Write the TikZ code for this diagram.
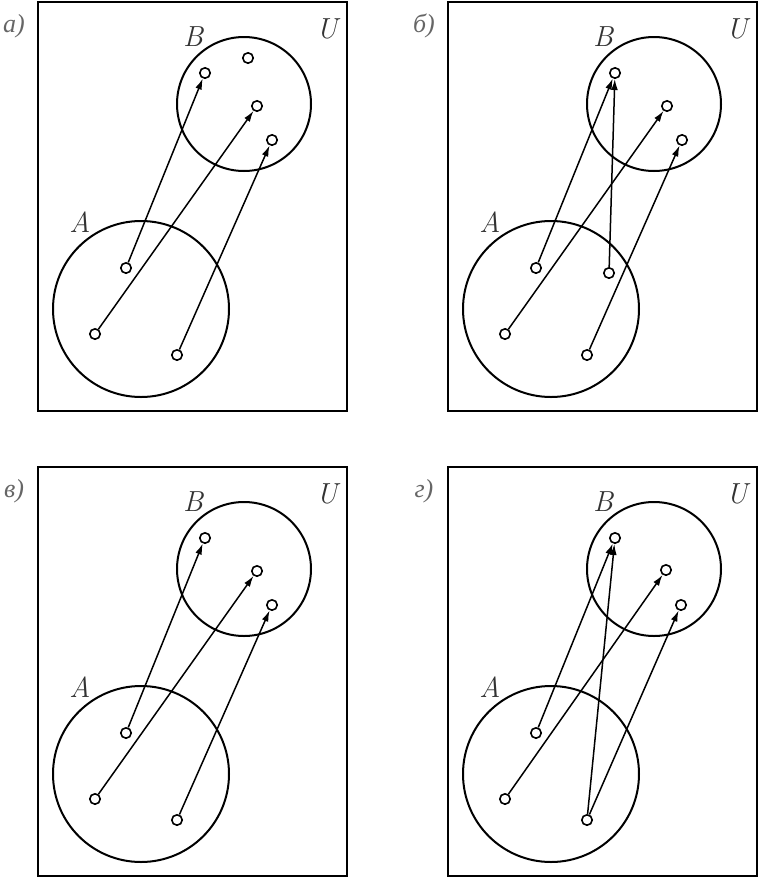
\documentclass[tikz,border=0pt]{standalone}
\usepackage{fontspec}
\newfontfamily\rusit{Liberation Serif}
\usetikzlibrary{arrows.meta}
\tikzset{
  ramka/.style={line width=1.1pt},
  mnozh/.style={line width=1pt},
  tochka/.style={circle,draw,fill=white,line width=0.8pt,inner sep=0pt,minimum size=5.2pt},
  strelka/.style={-{Latex[length=5.5pt,width=3.4pt]},line width=0.75pt},
  bukva/.style={font=\itshape\fontsize{14.5}{16}\selectfont,text=black!80},
  punkt/.style={font=\rusit\itshape\fontsize{13}{15}\selectfont,text=black!60},
}
% frame, the two sets and their letters
\newcommand\venn[2]{%
  \draw[ramka] (38,2) rectangle (347,411);
  \draw[mnozh] (244,104) circle[radius=67];
  \draw[mnozh] (141,309) circle[radius=88];
  \node[punkt] (#1-lab) at (14,26) {#2};
  \node[bukva] (#1-U) at (327,29) {U};
  \node[bukva] (#1-B) at (193,37) {B};
  \node[bukva] (#1-A) at (80,222) {A};
}

\begin{document}
\begin{tikzpicture}[x=0.5pt,y=-0.5pt]
  \useasboundingbox (0,0) rectangle (758,879);

  % а)
  \begin{scope}
    \venn{a}{а)}
    \node[tochka] (a-b1) at (205,73) {};
    \node[tochka] (a-b2) at (248,58) {};
    \node[tochka] (a-b3) at (257,106) {};
    \node[tochka] (a-b4) at (272,140) {};
    \node[tochka] (a-a1) at (126,268) {};
    \node[tochka] (a-a2) at (95,334) {};
    \node[tochka] (a-a3) at (177,355) {};
    \draw[strelka] (a-a1) -- (a-b1);
    \draw[strelka] (a-a2) -- (a-b3);
    \draw[strelka] (a-a3) -- (a-b4);
  \end{scope}

  % б)
  \begin{scope}[shift={(410,0)}]
    \venn{b}{б)}
    \node[tochka] (b-b1) at (205,73) {};
    \node[tochka] (b-b3) at (257,106) {};
    \node[tochka] (b-b4) at (272,140) {};
    \node[tochka] (b-a1) at (126,268) {};
    \node[tochka] (b-a4) at (199,273) {};
    \node[tochka] (b-a2) at (95,334) {};
    \node[tochka] (b-a3) at (177,355) {};
    \draw[strelka] (b-a1) -- (b-b1);
    \draw[strelka] (b-a4) -- (b-b1);
    \draw[strelka] (b-a2) -- (b-b3);
    \draw[strelka] (b-a3) -- (b-b4);
  \end{scope}

  % в)
  \begin{scope}[shift={(0,465)}]
    \venn{v}{в)}
    \node[tochka] (v-b1) at (205,73) {};
    \node[tochka] (v-b3) at (257,106) {};
    \node[tochka] (v-b4) at (272,140) {};
    \node[tochka] (v-a1) at (126,268) {};
    \node[tochka] (v-a2) at (95,334) {};
    \node[tochka] (v-a3) at (177,355) {};
    \draw[strelka] (v-a1) -- (v-b1);
    \draw[strelka] (v-a2) -- (v-b3);
    \draw[strelka] (v-a3) -- (v-b4);
  \end{scope}

  % г)
  \begin{scope}[shift={(410,465)}]
    \venn{g}{г)}
    \node[tochka] (g-b1) at (205,73) {};
    \node[tochka] (g-b3) at (256,105) {};
    \node[tochka] (g-b4) at (271,140) {};
    \node[tochka] (g-a1) at (126,268) {};
    \node[tochka] (g-a2) at (95,334) {};
    \node[tochka] (g-a3) at (177,355) {};
    \draw[strelka] (g-a1) -- (g-b1);
    \draw[strelka] (g-a2) -- (g-b3);
    \draw[strelka] (g-a3) -- (g-b1);
    \draw[strelka] (g-a3) -- (g-b4);
  \end{scope}
\end{tikzpicture}
\end{document}
